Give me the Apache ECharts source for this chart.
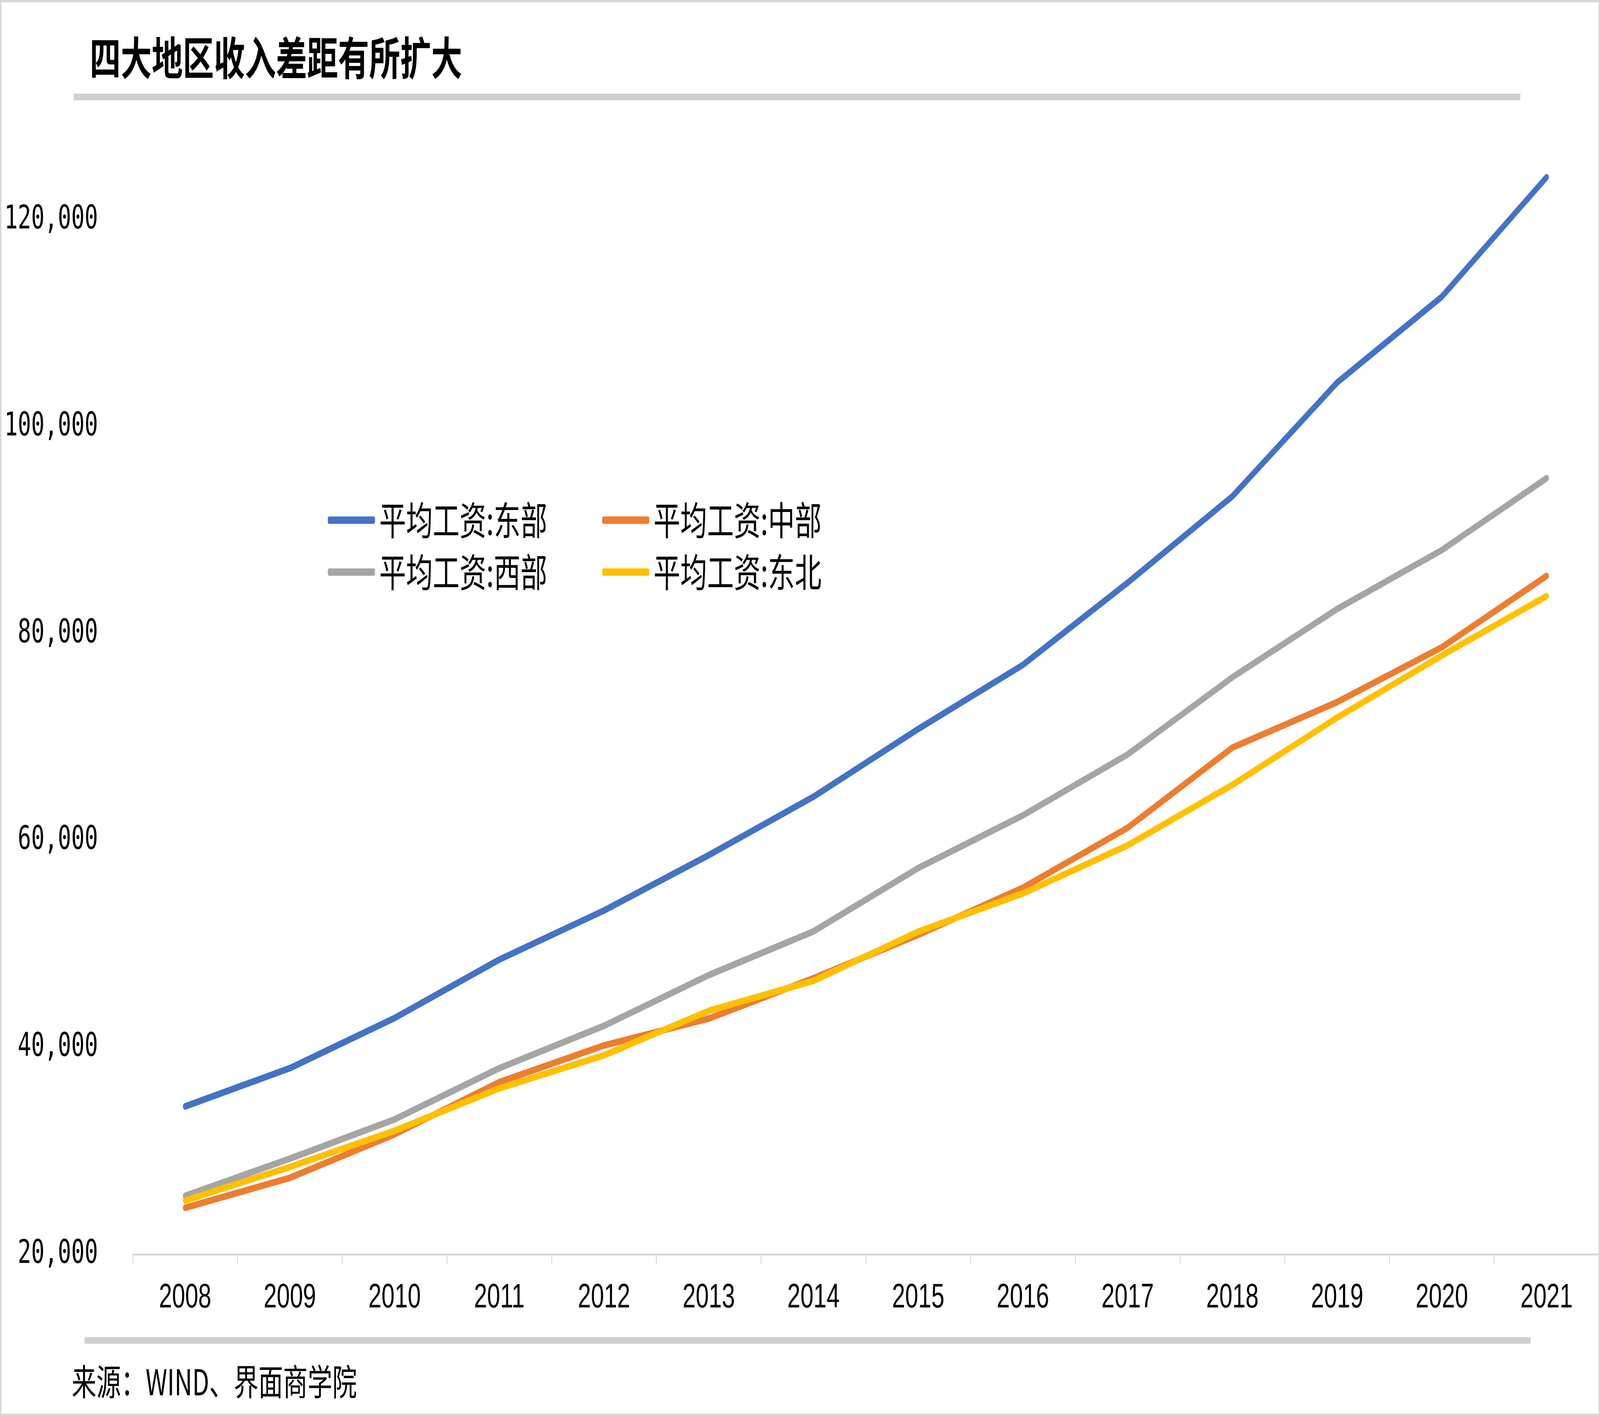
<!DOCTYPE html>
<html>
<head>
<meta charset="utf-8">
<style>
  html, body { margin: 0; padding: 0; background: #ffffff; overflow: hidden; }
  #chart { position: absolute; left: 0; top: 0; width: 5978px; height: 3626px; transform-origin: 0 0; }
</style>
<script src="https://cdn.jsdelivr.net/npm/echarts@6/dist/echarts.min.js"></script>
</head>
<body>
<div id="chart"></div>
<script>
// ---- data ----
const years = ['2008','2009','2010','2011','2012','2013','2014','2015','2016','2017','2018','2019','2020','2021'];
const seriesNames = ['平均工资:东部', '平均工资:中部', '平均工资:西部', '平均工资:东北'];
const east      = [34300, 38000, 42850, 48500, 53250, 58600, 64250, 70800, 77000, 84950, 93300, 104300, 112600, 124150];
const central   = [24500, 27400, 31600, 36650, 40200, 42800, 46700, 50900, 55450, 61250, 69000, 73400, 78700, 85600];
const west      = [25650, 29250, 33050, 38000, 42100, 47000, 51230, 57350, 62450, 68340, 75800, 82400, 88100, 95050];
const northeast = [25200, 28450, 31950, 36050, 39250, 43550, 46450, 51200, 54900, 59550, 65400, 71900, 77900, 83650];
const yMin = 20000, yMax = 130000, yStep = 20000;
const titleText = '四大地区收入差距有所扩大';
const sourceText = '来源：WIND、界面商学院';

const colors = ['#4472C4', '#ED7D31', '#A5A5A5', '#FFC000'];
const cjk = '"Noto Sans CJK SC", "Noto Sans", sans-serif';

// The chart is laid out on the reference's 5978 x 3626 canvas and fitted to the real window.
const W0 = 5978, H0 = 3626;
const el = document.getElementById('chart');
const sx = (window.innerWidth || W0) / W0;
const sy = (window.innerHeight || H0) / H0;
el.style.transform = 'scale(' + sx + ',' + sy + ')';

function fmt(v) {
  return String(v).replace(/\B(?=(\d{3})+(?!\d))/g, ',');
}

const chart = echarts.init(el, null, { renderer: 'canvas', devicePixelRatio: 1 });

function mkSeries(name, data, color) {
  return {
    name: name,
    type: 'line',
    data: data,
    symbol: 'none',
    smooth: false,
    lineStyle: { color: color, width: 17, cap: 'round', join: 'round' },
    itemStyle: { color: color },
    emphasis: { disabled: true }
  };
}

function mkLegend(top, names) {
  return {
    orient: 'horizontal',
    left: 1225,
    top: top,
    padding: 0,
    itemWidth: 176,
    itemHeight: 19,
    itemGap: 205,
    icon: 'roundRect',
    data: names,
    textStyle: {
      fontFamily: cjk,
      fontSize: 100,
      color: '#000000',
      padding: [0, 0, 0, 11],
      width: 640
    }
  };
}

chart.setOption({
  animation: false,
  backgroundColor: '#ffffff',
  color: colors,
  title: {
    text: titleText,
    left: 335,
    top: 90,
    padding: 0,
    textStyle: {
      fontFamily: cjk,
      fontSize: 116,
      fontWeight: 'bold',
      color: '#000000'
    }
  },
  legend: [
    mkLegend(1282, [seriesNames[0], seriesNames[1]]),
    mkLegend(1415, [seriesNames[2], seriesNames[3]])
  ],
  grid: {
    left: 496,
    right: 4,
    top: 299,
    bottom: 414,
    containLabel: false
  },
  xAxis: {
    type: 'category',
    data: years,
    boundaryGap: true,
    axisLine: { show: true, lineStyle: { color: '#D9D9D9', width: 5 } },
    axisTick: { show: true, interval: 0, length: 26, lineStyle: { color: '#D9D9D9', width: 3 } },
    axisLabel: {
      interval: 0,
      margin: 112,
      verticalAlign: 'middle',
      fontFamily: '"Liberation Sans", Arial, sans-serif',
      fontSize: 88,
      color: '#000000'
    },
    splitLine: { show: false }
  },
  yAxis: {
    type: 'value',
    min: yMin,
    max: yMax,
    interval: yStep,
    axisLine: { show: false },
    axisTick: { show: false },
    splitLine: { show: false },
    axisLabel: {
      showMaxLabel: false,
      margin: 130,
      padding: [20, 0, 0, 0],
      fontFamily: '"DejaVu Sans Mono", monospace',
      fontSize: 83,
      color: '#000000',
      formatter: function (v) { return (v % yStep === 0) ? fmt(v) : ''; }
    }
  },
  graphic: [
    {
      type: 'rect',
      shape: { x: 0, y: 0, width: W0, height: H0 },
      style: { fill: 'none', stroke: '#D9D9D9', lineWidth: 12 },
      silent: true, z: 100
    },
    {
      type: 'rect',
      shape: { x: 275, y: 240, width: 5405, height: 17 },
      style: { fill: '#D0D0D0' },
      silent: true
    },
    {
      type: 'rect',
      shape: { x: 316, y: 3424, width: 5403, height: 17 },
      style: { fill: '#D0D0D0' },
      silent: true
    },
    {
      type: 'text',
      x: 268,
      y: 3538,
      style: {
        text: sourceText,
        fontFamily: cjk,
        fontSize: 92,
        fill: '#000000',
        verticalAlign: 'middle'
      },
      silent: true
    }
  ],
  series: [
    mkSeries(seriesNames[0], east, colors[0]),
    mkSeries(seriesNames[1], central, colors[1]),
    mkSeries(seriesNames[2], west, colors[2]),
    mkSeries(seriesNames[3], northeast, colors[3])
  ]
});
</script>
</body>
</html>
